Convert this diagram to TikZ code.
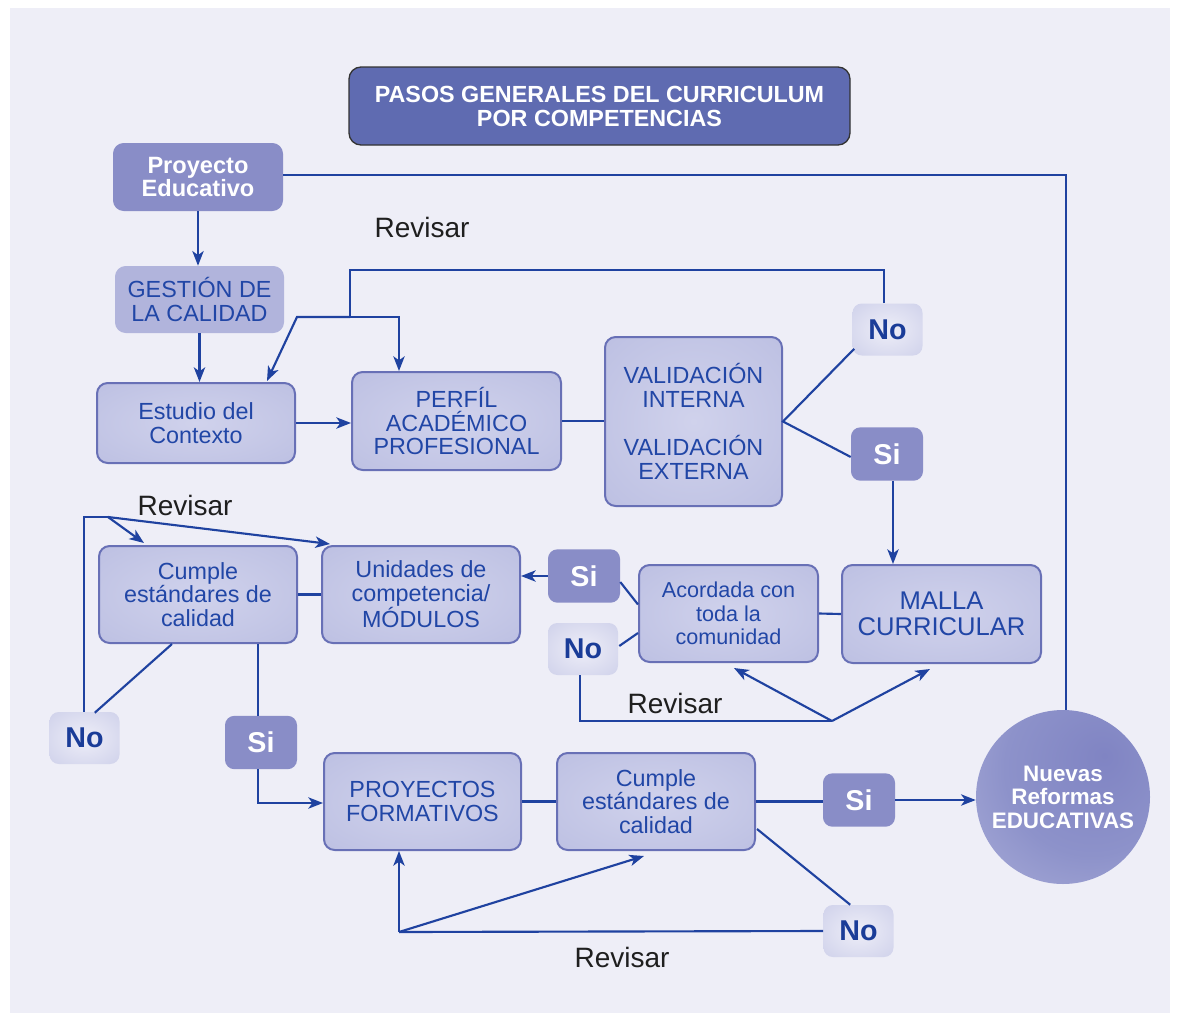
\documentclass[tikz,border=0pt]{standalone}
\usepackage{fontspec}
\setmainfont{Liberation Sans}
\usetikzlibrary{arrows.meta,calc}
\definecolor{bgc}{HTML}{EEEEF7}
\definecolor{lnc}{HTML}{1F42A0}
\definecolor{txc}{HTML}{2146A6}
\definecolor{nxc}{HTML}{1A3C98}
\definecolor{bdc}{HTML}{6870B6}
\definecolor{sic}{HTML}{898DC7}
\definecolor{gsc}{HTML}{B1B4DC}
\definecolor{ttc}{HTML}{5F6BB1}
\definecolor{bxA}{HTML}{D0D2EC}
\definecolor{bxB}{HTML}{C0C3E4}
\definecolor{bxC}{HTML}{B9BCE0}
\definecolor{bxD}{HTML}{E0E1F3}
\definecolor{noA}{HTML}{EEEEF8}
\definecolor{noB}{HTML}{C3C6E5}
\definecolor{spA}{HTML}{8084C3}
\definecolor{spB}{HTML}{8D92CA}
\definecolor{spC}{HTML}{ADB0DA}
\definecolor{spD}{HTML}{CACCE9}
\pgfdeclareradialshading{boxshade}{\pgfpoint{0bp}{0bp}}{color(0bp)=(bxA); color(30bp)=(bxB); color(42bp)=(bxC); color(49bp)=(bxD); color(72bp)=(bxD)}
\pgfdeclareradialshading{noshade}{\pgfpoint{0bp}{0bp}}{color(0bp)=(noA); color(50bp)=(noB); color(72bp)=(noB)}
\pgfdeclareradialshading{sphereshade}{\pgfpoint{12bp}{12bp}}{color(0bp)=(spA); color(25bp)=(spB); color(48bp)=(spC); color(62bp)=(spD); color(80bp)=(spD)}
\begin{document}
\begin{tikzpicture}[x=0.75pt,y=-0.75pt,
  ln/.style={draw=lnc,line width=1.6pt},
  arr/.style={ln,-{Stealth[length=11pt,width=8.5pt,inset=3pt]}},
  mbox/.style={draw=bdc,line width=1.5pt,rounded corners=8pt,shading=boxshade,align=center,text=txc,font=\fontsize{17.5}{17.5}\selectfont,inner sep=0pt},
  nobox/.style={rounded corners=7pt,shading=noshade,text=nxc,font=\bfseries\fontsize{21.5}{21.5}\selectfont,minimum width=52.5pt,minimum height=39pt,inner sep=0pt},
  sibox/.style={rounded corners=7pt,fill=sic,text=white,font=\bfseries\fontsize{21.5}{21.5}\selectfont,minimum width=54pt,minimum height=40pt,inner sep=0pt},
  lbl/.style={text=black!88,font=\fontsize{21}{21}\selectfont,inner sep=0pt}]
\useasboundingbox (0,0) rectangle (1178,1021);
\fill[white] (0,0) rectangle (1178,1021);
\fill[bgc] (10,8) rectangle (1170,1013);

% nodes
\node[fill=ttc,draw=black!80,line width=1pt,rounded corners=9pt,minimum width=375.75pt,minimum height=58.5pt,inner sep=0pt,text=white,font=\bfseries\fontsize{17.5}{18}\selectfont,align=center] (title) at (599.5,106) {PASOS GENERALES DEL CURRICULUM\\POR COMPETENCIAS};
\node[fill=sic,rounded corners=8pt,minimum width=127.5pt,minimum height=51pt,inner sep=0pt,text=white,font=\bfseries\fontsize{17.7}{17.3}\selectfont,align=center] (proy) at (198,177) {Proyecto\\Educativo};
\node[fill=gsc,rounded corners=8pt,minimum width=126.75pt,minimum height=50.25pt,inner sep=0pt,text=txc,font=\fontsize{17.5}{17.5}\selectfont,align=center] (gest) at (199.5,299.5) {GESTIÓN DE\\LA CALIDAD};
\node[mbox,minimum width=148.5pt,minimum height=60pt] (est) at (196,423) {Estudio del\\Contexto};
\node[mbox,minimum width=156.75pt,minimum height=73.5pt] (perf) at (456.5,421) {PERFÍL\\ACADÉMICO\\PROFESIONAL};
\node[mbox,minimum width=132.75pt,minimum height=126.75pt] (val) at (693.5,421.5) {VALIDACIÓN\\INTERNA\\[19pt]VALIDACIÓN\\EXTERNA};
\node[nobox] (noT) at (887.5,329.5) {No};
\node[sibox] (siT) at (887,454) {Si};
\node[mbox,minimum width=149.25pt,minimum height=73.5pt,font=\fontsize{19.2}{19.5}\selectfont] (mal) at (941.5,614) {MALLA\\CURRICULAR};
\node[mbox,minimum width=134.25pt,minimum height=72.75pt,font=\fontsize{16.2}{17.6}\selectfont] (acu) at (728.5,613.5) {Acordada con\\toda la\\comunidad};
\node[sibox] (siM) at (584,576) {Si};
\node[nobox] (noM) at (583,649) {No};
\node[mbox,minimum width=148.5pt,minimum height=72.75pt] (uni) at (421,594.5) {Unidades de\\competencia/\\MÓDULOS};
\node[mbox,minimum width=148.5pt,minimum height=72.75pt] (cuL) at (198,594.5) {Cumple\\estándares de\\calidad};
\node[nobox] (noL) at (84.5,738) {No};
\node[sibox] (siL) at (261,742.5) {Si};
\node[mbox,minimum width=147.75pt,minimum height=72.75pt] (pro) at (422.5,801.5) {PROYECTOS\\FORMATIVOS};
\node[mbox,minimum width=148.5pt,minimum height=72.75pt] (cuB) at (656,801.5) {Cumple\\estándares de\\calidad};
\node[sibox] (siB) at (859,800) {Si};
\node[nobox] (noB) at (858.5,931) {No};
\node[circle,shading=sphereshade,minimum size=130.5pt,inner sep=0pt,text=white,font=\bfseries\fontsize{16.8}{17.7}\selectfont,align=center] (ref) at (1063,797) {Nuevas\\Reformas\\EDUCATIVAS};

% labels
\node[lbl] (rv1) at (422,227) {Revisar};
\node[lbl] (rv2) at (185,505) {Revisar};
\node[lbl] (rv3) at (675,703) {Revisar};
\node[lbl] (rv4) at (622,957) {Revisar};

% coordinates
\coordinate (c1) at (1066,175);
\coordinate (r1) at (884,270);
\coordinate (r2) at (350,270);
\coordinate (r3) at (350,317);
\coordinate (r4) at (399,317);
\coordinate (r5) at (297,317);
\coordinate (m1) at (893,481);
\coordinate (q1) at (580,721);
\coordinate (q2) at (832,721);
\coordinate (p1) at (84,517);
\coordinate (p2) at (108,517);
\coordinate (s1) at (258,803);
\coordinate (b1) at (399,932);

% connectors
\draw[ln] (proy.east |- c1) -- (c1) -- (c1 |- ref.north);
\draw[arr] (proy.south) -- (proy.south |- gest.north);
\draw[arr] (gest.south) -- (gest.south |- est.north);
\draw[arr] (est.east) -- (est.east -| perf.west);
\draw[ln] (perf.east) -- (perf.east -| val.west);
\draw[ln] ($(noT.south west)+(2,-7)$) -- (val.east) -- ($(siT.west)+(0,3)$);
\draw[ln] (noT.north -| r1) -- (r1) -- (r2) -- (r3);
\draw[arr] (r3) -- (r4) -- (r4 |- perf.north);
\draw[arr] (r3) -- (r5) -- ($(est.north east)+(-29,-1)$);
\draw[arr] (siT.south -| m1) -- (m1 |- mal.north);
\draw[ln] (mal.west) -- (acu.east);
\draw[ln] ($(siM.east)+(0,6)$) -- ($(acu.west)+(0,-9)$);
\draw[ln] ($(noM.east)+(1,-3)$) -- ($(acu.west)+(0,19.5)$);
\draw[arr] (siM.west) -- (siM.west -| uni.east);
\draw[ln] (noM.south -| q1) -- (q1) -- (q2);
\draw[arr] (q2) -- ($(acu.south)+(5.5,5)$);
\draw[arr] (q2) -- ($(mal.south)+(-11.5,5)$);
\draw[ln] (uni.west) -- (uni.west -| cuL.east);
\draw[ln] ($(cuL.south)+(-26,0)$) -- ($(noL.north east)+(-25,1)$);
\draw[ln] (noL.north -| p1) -- (p1) -- (p2);
\draw[arr] (p2) -- ($(cuL.north west)+(46,-2)$);
\draw[arr] (p2) -- ($(uni.north west)+(9,-1)$);
\draw[ln] (cuL.south -| s1) -- (siL.north -| s1);
\draw[arr] (siL.south -| s1) -- (s1) -- (s1 -| pro.west);
\draw[ln] (pro.east) -- (pro.east -| cuB.west);
\draw[ln] (cuB.east) -- (cuB.east -| siB.west);
\draw[arr] (siB.east) -- (siB.east -| ref.west);
\draw[ln] ($(cuB.south east)+(1,-22)$) -- ($(noB.north west)+(27,0)$);
\draw[ln] (noB.west) -- (b1);
\draw[arr] (b1) -- (b1 |- pro.south);
\draw[arr] (b1) -- ($(cuB.south)+(-12,5)$);
\end{tikzpicture}
\end{document}
